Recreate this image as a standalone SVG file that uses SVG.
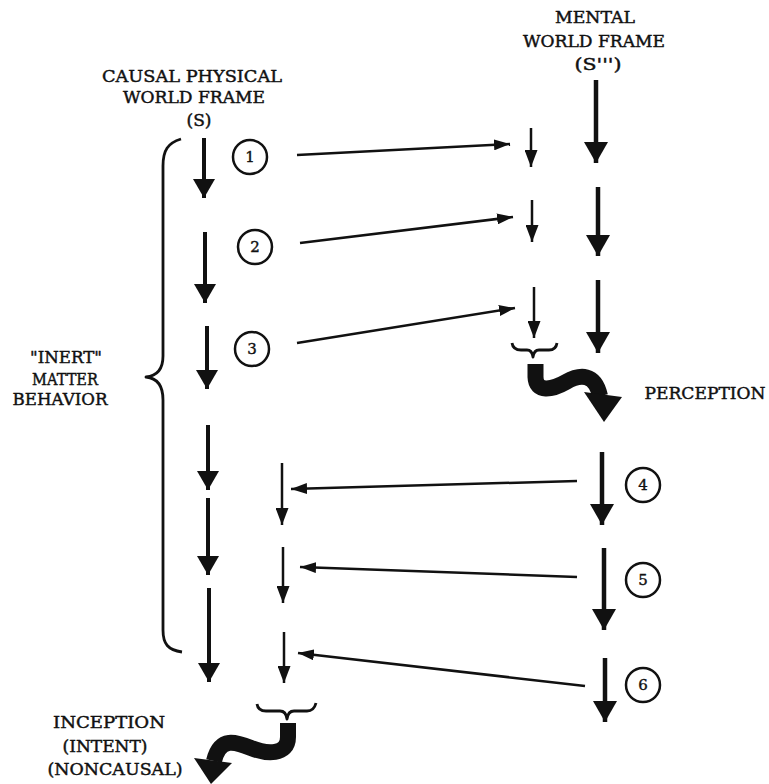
<svg xmlns="http://www.w3.org/2000/svg" width="769" height="784" viewBox="0 0 769 784">
<style>
.lbl{font-family:"DejaVu Serif","Liberation Serif",serif;font-size:16.5px;fill:#111;stroke:#111;stroke-width:0.45;text-anchor:middle}
.num{font-family:"DejaVu Serif","Liberation Serif",serif;font-size:15px;fill:#111;stroke:#111;stroke-width:0.4;text-anchor:middle}
.circ{fill:#fff;stroke:#111;stroke-width:2.5}
.big{stroke:#111;stroke-width:4.5;fill:none;marker-end:url(#hBig)}
.mid{stroke:#111;stroke-width:4;fill:none;marker-end:url(#hMid)}
.sml{stroke:#111;stroke-width:2.5;fill:none;marker-end:url(#hSml)}
.con{stroke:#111;stroke-width:2.5;fill:none;marker-end:url(#hCon)}
.brace{stroke:#111;stroke-width:2.8;fill:none;stroke-linejoin:round}
.squig{stroke:#111;stroke-width:16;fill:none}
</style>
<defs>
<marker id="hBig" markerUnits="userSpaceOnUse" viewBox="0 -12 21 24" refX="21" refY="0" markerWidth="21" markerHeight="24" orient="auto"><path d="M0,-12 L21,0 L0,12 z" fill="#111"/></marker>
<marker id="hMid" markerUnits="userSpaceOnUse" viewBox="0 -11 19 22" refX="19" refY="0" markerWidth="19" markerHeight="22" orient="auto"><path d="M0,-11 L19,0 L0,11 z" fill="#111"/></marker>
<marker id="hSml" markerUnits="userSpaceOnUse" viewBox="0 -6.5 17 13" refX="17" refY="0" markerWidth="17" markerHeight="13" orient="auto"><path d="M0,-6.5 L17,0 L0,6.5 z" fill="#111"/></marker>
<marker id="hCon" markerUnits="userSpaceOnUse" viewBox="0 -5.5 16 11" refX="16" refY="0" markerWidth="16" markerHeight="11" orient="auto"><path d="M0,-5.5 L16,0 L0,5.5 z" fill="#111"/></marker>
</defs>
<rect width="769" height="784" fill="#fff"/>

<g id="label-physical">
<text class="lbl" x="192" y="82" textLength="180" lengthAdjust="spacingAndGlyphs">CAUSAL PHYSICAL</text>
<text class="lbl" x="194" y="103" textLength="142" lengthAdjust="spacingAndGlyphs">WORLD FRAME</text>
<text class="lbl" x="199" y="126" textLength="25" lengthAdjust="spacingAndGlyphs">(S)</text>
</g>
<g id="label-mental">
<text class="lbl" x="595" y="23" textLength="80" lengthAdjust="spacingAndGlyphs">MENTAL</text>
<text class="lbl" x="594" y="47" textLength="142" lengthAdjust="spacingAndGlyphs">WORLD FRAME</text>
<text class="lbl" x="598" y="70" textLength="47" lengthAdjust="spacingAndGlyphs">(S''')</text>
</g>
<g id="label-inert">
<text class="lbl" x="66" y="363" textLength="72" lengthAdjust="spacingAndGlyphs">"INERT"</text>
<text class="lbl" x="65" y="385" textLength="66" lengthAdjust="spacingAndGlyphs">MATTER</text>
<text class="lbl" x="60" y="405" textLength="95" lengthAdjust="spacingAndGlyphs">BEHAVIOR</text>
</g>
<g id="label-perception">
<text class="lbl" x="705" y="399" textLength="121" lengthAdjust="spacingAndGlyphs">PERCEPTION</text>
</g>
<g id="label-inception">
<text class="lbl" x="109" y="728" textLength="112" lengthAdjust="spacingAndGlyphs">INCEPTION</text>
<text class="lbl" x="105" y="752" textLength="85" lengthAdjust="spacingAndGlyphs">(INTENT)</text>
<text class="lbl" x="115" y="775" textLength="135" lengthAdjust="spacingAndGlyphs">(NONCAUSAL)</text>
</g>

<g id="brace-left">
<path class="brace" d="M181,139 C168,143 163,150 163,166 L163,356 C163,370 156,376 146,377 C156,378 163,385 163,400 L163,630 C163,644 168,650 182,652"/>
</g>
<g id="brace-perception">
<path class="brace" d="M512,343 Q513,350 521,350 L527,350 Q532,350 533,357 Q534,350 539,350 L549,350 Q556,350 557,343"/>
</g>
<g id="brace-inception">
<path class="brace" d="M257,704 Q258,711 266,711 L280,711 Q286,711 287,719 Q288,711 294,711 L307,711 Q314,711 316,703"/>
</g>

<g id="squiggle-perception">
<path class="squig" d="M535.5,364 L535.5,377 C536,393 552,390 566,382 C580,374 595,373 600,396"/>
<path d="M584,392 L622,397 L604,422 z" fill="#111"/>
</g>
<g id="squiggle-inception">
<path class="squig" d="M288,723 L288,737 C288,756 266,754 251,748 C236,742 220,736 214,761"/>
<path d="M194,758 L232,763 L211,784 z" fill="#111"/>
</g>

<g id="circle-1"><circle class="circ" cx="250" cy="157" r="17"/><text class="num" x="250" y="162">1</text></g>
<g id="circle-2"><circle class="circ" cx="255" cy="247" r="17"/><text class="num" x="255" y="252">2</text></g>
<g id="circle-3"><circle class="circ" cx="252" cy="349" r="17"/><text class="num" x="252" y="354">3</text></g>
<g id="circle-4"><circle class="circ" cx="643" cy="485" r="17"/><text class="num" x="643" y="490">4</text></g>
<g id="circle-5"><circle class="circ" cx="643" cy="580" r="17"/><text class="num" x="643" y="585">5</text></g>
<g id="circle-6"><circle class="circ" cx="643" cy="685" r="17"/><text class="num" x="643" y="690">6</text></g>

<g id="connectors">
<path class="mid" d="M204,138 L204,198"/>
<path class="mid" d="M205,232 L205,303"/>
<path class="mid" d="M207,326 L207,389"/>
<path class="mid" d="M208,425 L208,490"/>
<path class="mid" d="M208,498 L208,575"/>
<path class="mid" d="M209,588 L209,682"/>

<path class="sml" d="M531,128 L531,167"/>
<path class="sml" d="M532,200 L532,242"/>
<path class="sml" d="M534,287 L534,338"/>
<path class="sml" d="M282,463 L282,525"/>
<path class="sml" d="M283,547 L283,603"/>
<path class="sml" d="M284,632 L284,683"/>

<path class="big" d="M596,80 L596,163"/>
<path class="big" d="M598,187 L598,256"/>
<path class="big" d="M598,280 L598,353"/>
<path class="big" d="M602,452 L602,525"/>
<path class="big" d="M604,548 L604,630"/>
<path class="big" d="M605,658 L605,722"/>

<path class="con" d="M297,155 L510,144"/>
<path class="con" d="M300,243 L513,217"/>
<path class="con" d="M297,343 L515,308"/>
<path class="con" d="M577,481 L291,489"/>
<path class="con" d="M577,577 L300,567"/>
<path class="con" d="M585,686 L298,653"/>
</g>
</svg>
